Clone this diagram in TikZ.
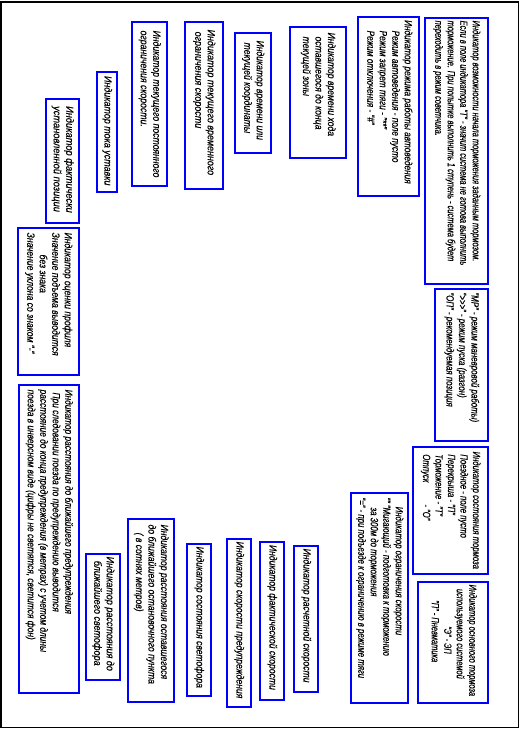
\documentclass[tikz,border=0pt]{standalone}
\usepackage{fontspec}
\usepackage{graphicx}
\setmainfont{Liberation Sans}[FakeStretch=0.82,FakeBold=0.3]
\newcommand{\boxlines}[2]{\scalebox{#1}[1]{\begin{tabular}{@{}l@{}}#2\end{tabular}}}
\tikzset{
  bluebox/.style={draw=blue, line width=1.2pt, rotate=-90, inner sep=0pt},
  boxtext/.style={rotate=-90, anchor=west, inner sep=0pt, text=black,
    font=\itshape\fontsize{10.5}{12.5}\selectfont},
}
\begin{document}
\begin{tikzpicture}[x=1pt,y=-1pt]
\useasboundingbox (0,0) rectangle (526,732);
\draw[line width=1.6pt] (1,1.8) rectangle (518.3,727.3);

% A
\node[bluebox, minimum width=266, minimum height=63] (A) at (456.5,151) {};
\node[boxtext] (At) at ([yshift=-3pt]A.west) {\boxlines{0.87}{Индикатор возможности начала торможения заданным тормозом.\\Если в поле индикатора "Т" - значит система не готова выполнить\\торможение. При попытке выполнить 1 ступень - система будет\\переходить в режим советчика.}};
% B
\node[bluebox, minimum width=179, minimum height=61] (B) at (388.5,106.5) {};
\node[boxtext] (Bt) at ([yshift=-3.5pt]B.west) {\boxlines{0.96}{Индикатор режима работы автоведения\\\hspace*{11pt}Режим автоведения - поле пусто\\\hspace*{11pt}Режим запрет тяги - "**"\\\hspace*{11pt}Режим отключения - "\#"}};
% C
\node[bluebox, minimum width=152, minimum height=53] (C) at (461.5,365) {};
\node[boxtext] (Ct) at ([yshift=-4pt]C.west) {\boxlines{0.92}{"МР" - режим маневровой работы)\\">\kern0pt>\kern0pt>" - режим пуска (разгон)\\"ОП" - рекомендуемая позиция}};
% D
\node[bluebox, minimum width=127, minimum height=75] (D) at (450.5,510.5) {};
\node[boxtext] (Dt) at ([yshift=-5pt]D.west) {\boxlines{0.9}{Индикатор состояния тормоза\\\hspace*{3pt}Поездное - поле пусто\\\hspace*{3pt}Перекрыша - "П"\\\hspace*{3pt}Торможение - "Т"\\\hspace*{3pt}Отпуск\hspace*{22pt} - "О"}};
% E
\node[bluebox, minimum width=210, minimum height=57] (E) at (379.5,598) {};
\node[boxtext] (Et) at ([yshift=-5pt]E.west) {\boxlines{0.91}{\hspace*{10pt}Индикатор ограничения скорости\\"" "Мигающий - подготовка к торможению\\\hspace*{11pt}за 300м до торможения\\"=" - при подъезде к ограничению в режиме тяги}};
% F
\node[bluebox, minimum width=121, minimum height=70] (F) at (453,642.5) {};
\node[boxtext] (Ft) at ([yshift=-3pt]F.west) {\boxlines{0.87}{Индикатор основного тормоза\\\hspace*{5pt}используемого системой\\\hspace*{48pt}"Э" - ЭП\\\hspace*{18pt}"П" - Пневматика}};
% G
\node[bluebox, minimum width=131, minimum height=56] (G) at (318,92.5) {};
\node[boxtext] (Gt) at ([yshift=-6pt]G.west) {\boxlines{1.0}{Индикатор времени хода\\\hspace*{4pt}оставшегося до конца\\\hspace*{4pt}текущей зоны}};
% H
\node[bluebox, minimum width=120, minimum height=36] (H) at (253,93) {};
\node[boxtext] (Ht) at ([yshift=-8pt]H.west) {\boxlines{1.0}{Индикатор времени или\\\hspace*{2pt}текущей координаты}};
% I
\node[bluebox, minimum width=167, minimum height=38] (I) at (204,105.5) {};
\node[boxtext] (It) at ([yshift=-8pt]I.west) {\boxlines{1.04}{Индикатор текущего временного\\\hspace*{2pt}ограничения скорости}};
% J
\node[bluebox, minimum width=152, minimum height=24] (J) at (199,620) {};
\node[boxtext] (Jt) at ([yshift=-3pt]J.west) {\boxlines{1.0}{Индикатор состояния светофора}};
% K
\node[bluebox, minimum width=168, minimum height=24] (K) at (239,623) {};
\node[boxtext] (Kt) at ([yshift=-3pt]K.west) {\boxlines{1.0}{Индикатор скорости предупреждения}};
% L
\node[bluebox, minimum width=158, minimum height=24] (L) at (272,621) {};
\node[boxtext] (Lt) at ([yshift=-3.4pt]L.west) {\boxlines{1.0}{Индикатор фактической скорости}};
% M
\node[bluebox, minimum width=146, minimum height=24] (M) at (306,619) {};
\node[boxtext] (Mt) at ([yshift=-3pt]M.west) {\boxlines{1.0}{Индикатор расчетной скорости}};
% N
\node[bluebox, minimum width=164, minimum height=35] (N) at (149.5,104) {};
\node[boxtext] (Nt) at ([yshift=-9pt]N.west) {\boxlines{1.01}{Индикатор текущего постоянного\\ограничения скорости.}};
% O
\node[bluebox, minimum width=120, minimum height=20] (O) at (107,132) {};
\node[boxtext] (Ot) at ([yshift=-4.4pt]O.west) {\boxlines{1.04}{Индикатор тока уставки}};
% P
\node[bluebox, minimum width=124, minimum height=33] (P) at (62.5,161) {};
\node[boxtext] (Pt) at ([yshift=-7.5pt]P.west) {\boxlines{1.08}{Индикатор фактически\\установленной позиции}};
% Q
\node[bluebox, minimum width=147, minimum height=61] (Q) at (48.5,301.5) {};
\node[boxtext] (Qt) at ([yshift=-5pt]Q.west) {\boxlines{1.0}{Индикатор оценки профиля\\Значение подъема выводится\\\hspace*{22pt}без знака\\Значение уклона со знаком "-"}};
% R
\node[bluebox, minimum width=308, minimum height=60] (R) at (49,539) {};
\node[boxtext] (Rt) at ([yshift=-5pt]R.west) {\boxlines{0.97}{Индикатор расстояния до ближайшего предупреждения\\\hspace*{3pt}При следовании поезда по предупреждению выводится\\расстояние до конца предупреждения (в метрах) с учетом длины\\поезда в инверсном виде (цифры не светятся, светится фон)}};
% S
\node[bluebox, minimum width=126, minimum height=34] (S) at (103,617) {};
\node[boxtext] (St) at ([yshift=-3pt]S.west) {\boxlines{1.05}{Индикатор расстояния до\\\hspace*{4pt}ближайшего светофора}};
% T
\node[bluebox, minimum width=183, minimum height=46] (T) at (151,610.5) {};
\node[boxtext] (Tt) at ([yshift=-6pt]T.west) {\boxlines{1.0}{Индикатор расстояния оставшегося\\до ближайшего остановочного пункта\\\hspace*{8pt}( в сотнях метров)}};
\end{tikzpicture}
\end{document}
